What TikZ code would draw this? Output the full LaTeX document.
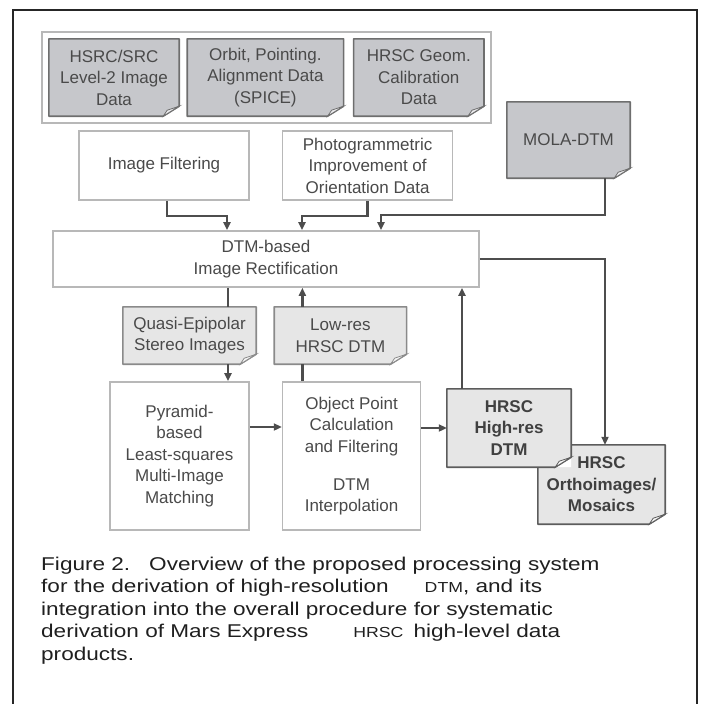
\documentclass[tikz,border=0pt]{standalone}
\usepackage{fontspec}
\setmainfont{Liberation Sans}
\newfontfamily\capfont{Liberation Sans}[FakeStretch=1.22]
\usetikzlibrary{arrows.meta, positioning, fit}
\definecolor{docdark}{HTML}{C6C7CB}
\definecolor{doclight}{HTML}{E6E6E6}
\definecolor{darkedge}{HTML}{6E6E6E}
\definecolor{lightedge}{HTML}{8A8A8A}
\definecolor{hiedge}{HTML}{5C5C5C}
\definecolor{boxline}{HTML}{B8B8B8}
\definecolor{edgegray}{HTML}{4D4D4D}
\definecolor{txtgray}{HTML}{4A4A4A}
% outline with folded lower right corner
\newcommand\dogear[3]{%
  \fill[white] ([yshift=10pt]#1.south east) -- (#1.south east) -- ([xshift=-16pt]#1.south east) -- cycle;
  \draw[#3, line width=1.6pt, line join=round] (#1.north west) -- (#1.north east)
    -- ([yshift=10pt]#1.south east) -- ([xshift=-16pt]#1.south east) -- (#1.south west) -- cycle;
  \filldraw[draw=#3, fill=#2!35!white, line width=0.8pt] ([yshift=10pt]#1.south east)
    -- ([xshift=-12pt,yshift=6pt]#1.south east) -- ([xshift=-16pt]#1.south east) -- cycle;
}
\newcommand\smc[1]{{\fontsize{14.5}{22.5}\selectfont #1}}

\begin{document}
\begin{tikzpicture}[x=1pt, y=-1pt,
    >={Triangle[length=8pt,width=7pt]},
    every node/.append style={font=\fontsize{17}{21.5}\selectfont, text=txtgray},
    box/.style={rectangle, draw=boxline, line width=1.6pt, fill=white, align=center, inner sep=0pt},
    dbox/.style={rectangle, fill=docdark, align=center, inner sep=0pt},
    lbox/.style={rectangle, fill=doclight, align=center, inner sep=0pt},
    hbox/.style={lbox, font=\fontsize{17}{21.5}\selectfont\bfseries, text=black!75},
    grp/.style={draw=boxline, line width=1.6pt, inner sep=7pt},
    conn/.style={draw=edgegray, line width=2.3pt},
  ]
  \useasboundingbox (0,0) rectangle (703,704);
  \draw[line width=1.3pt, black!85] (13,706) -- (13,10) -- (697,10) -- (697,706);

  % input data
  \node[dbox, minimum width=130pt, minimum height=77pt] (l2img) at (114,77.5) {HSRC/SRC\\Level-2 Image\\Data};
  \node[dbox, minimum width=156pt, minimum height=77pt, right=8pt of l2img] (spice) {Orbit, Pointing.\\Alignment Data\\(SPICE)};
  \node[dbox, minimum width=130pt, minimum height=77pt, right=10pt of spice] (geocal) {HRSC Geom.\\Calibration\\Data};
  \node[grp, fit=(l2img)(spice)(geocal)] (inputs) {};
  \node[dbox, minimum width=123pt, minimum height=76pt] (mola) at (568.5,140) {MOLA-DTM};
  \dogear{l2img}{docdark}{darkedge}
  \dogear{spice}{docdark}{darkedge}
  \dogear{geocal}{docdark}{darkedge}
  \dogear{mola}{docdark}{darkedge}

  % preprocessing
  \node[box, minimum width=170pt, minimum height=69pt] (filt) at (164,165.5) {Image Filtering};
  \node[box, minimum width=170pt, minimum height=69pt, right=32pt of filt] (orient) {Photogrammetric\\Improvement of\\Orientation Data};
  \node[box, minimum width=426pt, minimum height=56pt] (rectif) at (266,259) {DTM-based\\Image Rectification};

  % intermediate products
  \node[lbox, minimum width=133pt, minimum height=57pt] (epi) at (189.5,335.5) {Quasi-Epipolar\\Stereo Images};
  \node[lbox, minimum width=132pt, minimum height=57pt, right=18pt of epi] (lowdtm) {Low-res\\HRSC DTM};
  \dogear{epi}{doclight}{lightedge}
  \dogear{lowdtm}{doclight}{lightedge}

  % matching
  \node[box, minimum width=139pt, minimum height=148pt] (match) at (179.5,456) {Pyramid-\\based\\Least-squares\\Multi-Image\\Matching};
  \node[box, minimum width=138pt, minimum height=148pt, right=32pt of match] (objpt) {Object Point\\Calculation\\and Filtering\\[16.5pt]DTM\\Interpolation};

  % results
  \node[hbox, minimum width=127pt, minimum height=79pt] (ortho) at (601.5,484.5) {HRSC\\Orthoimages/\\Mosaics};
  \dogear{ortho}{doclight}{hiedge}
  \node[hbox, minimum width=124pt, minimum height=78pt] (hidtm) at (509,428) {HRSC\\High-res\\DTM};
  \dogear{hidtm}{doclight}{hiedge}

  % connectors
  \draw[conn,->] ([xshift=3pt]filt.south) -- ++(0,15) -| ([xshift=-39pt]rectif.north);
  \draw[conn,->] (orient.south) -- ++(0,15) -| ([xshift=36pt]rectif.north);
  \draw[conn,->] ([xshift=36.5pt]mola.south) -- ++(0,37) -| ([xshift=115pt]rectif.north);
  \draw[conn,->] (rectif.east) -| ([xshift=3.5pt]ortho.north);

  \coordinate (epitop) at ([xshift=38.5pt]epi.north);
  \coordinate (epibot) at ([xshift=38.5pt]epi.south);
  \draw[conn] (epitop |- rectif.south) -- (epitop);
  \draw[conn,->] (epibot) -- (epibot |- match.north);

  \coordinate (lowtop) at ([xshift=-38pt]lowdtm.north);
  \coordinate (lowbot) at ([xshift=-38pt]lowdtm.south);
  \draw[conn,->] (lowtop) -- (lowtop |- rectif.south);
  \draw[conn] (lowbot |- objpt.north) -- (lowbot);

  \coordinate (hitop) at ([xshift=-47pt]hidtm.north);
  \draw[conn,->] (hitop) -- (hitop |- rectif.south);

  \draw[conn,->] ([yshift=29pt]match.east) -- ([yshift=29pt]objpt.west);
  \draw[conn,->] (objpt.east |- hidtm.west) -- (hidtm.west);

  % caption
  \node[anchor=north west, align=left, inner sep=0pt, text=black!88,
        font=\capfont\fontsize{18.5}{22.5}\selectfont] (caption) at (41,556.5)
    {Figure 2.\hspace{19pt}Overview of the proposed processing system\\
     for the derivation of high-resolution\hspace{36pt}\smc{DTM}, and its\\
     integration into the overall procedure for systematic\\
     derivation of Mars Express\hspace{45pt}\smc{HRSC}\hspace{10pt}high-level data\\
     products.};
\end{tikzpicture}
\end{document}
